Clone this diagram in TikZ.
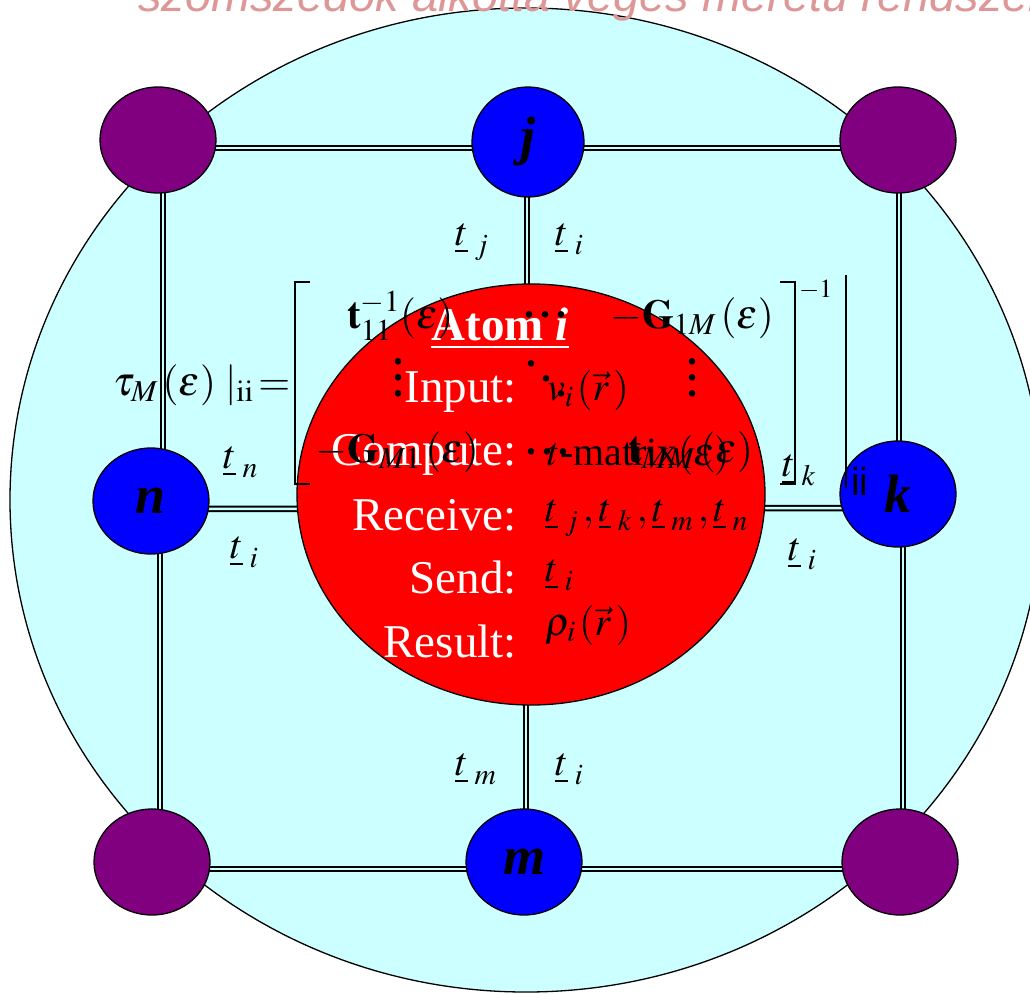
\documentclass[tikz,border=0pt]{standalone}
\usepackage{mathptmx}
\usepackage{fontspec}
\setmainfont{Liberation Serif}
\setsansfont{Liberation Sans}
\usetikzlibrary{shapes.geometric}
\definecolor{cyanbg}{RGB}{204,255,255}
\definecolor{vio}{RGB}{128,0,128}
\definecolor{blu}{RGB}{0,0,255}
\definecolor{pinkt}{RGB}{222,150,150}
\pgfdeclarelayer{bg}
\pgfdeclarelayer{lines}
\pgfdeclarelayer{front}
\pgfsetlayers{bg,lines,main,front}
\newcommand\mydots{\textbf{.}\kern6pt\textbf{.}\kern6pt\textbf{.}}
\tikzset{
  site/.style={ellipse, draw=black, line width=1.3pt, minimum width=116pt, minimum height=106pt, inner sep=0pt,
    font=\fontsize{54}{60}\selectfont\bfseries\itshape},
  corner/.style={site, fill=vio},
  bluesite/.style={site, fill=blu},
  link/.style={draw=black, line width=2pt, double=cyanbg, double distance=2.5pt},
  elbl/.style={inner sep=0pt, anchor=base west, font=\fontsize{40}{46}\selectfont},
  mtx/.style={inner sep=0pt, anchor=base west, font=\fontsize{41}{46}\selectfont},
  wlbl/.style={inner sep=0pt, anchor=base east, text=white, font=\fontsize{47}{52}\selectfont},
  bval/.style={inner sep=0pt, anchor=base west, text=black, font=\fontsize{40}{46}\selectfont},
  brk/.style={draw=black, line width=1.8pt},
  dotrow/.style={inner sep=0pt, anchor=base west, font=\fontsize{40}{46}\selectfont},
}
\newcommand\myvdots{\raisebox{32pt}{\textbf{.}}\llap{\raisebox{16pt}{\textbf{.}}}\llap{\textbf{.}}}
\begin{document}
\begin{tikzpicture}[x=1pt,y=-1pt]
\useasboundingbox (0,0) rectangle (1030,993);
% title (cut at the top)
\node[inner sep=0pt, anchor=base west, text=pinkt, font=\fontsize{47}{52}\selectfont\sffamily\itshape] (title) at (138,11) {szomszédok alkotta véges méretű rendszer};
% big region
\begin{pgfonlayer}{bg}
\node[ellipse, draw=black, line width=1.3pt, fill=cyanbg, minimum width=1032pt, minimum height=984pt, inner sep=0pt] (world) at (526,500) {};
\end{pgfonlayer}
% sites
\node[corner] (tl) at (158,140) {};
\node[corner] (tr) at (898,140) {};
\node[corner] (bl) at (152,862) {};
\node[corner] (br) at (900,862) {};
\node[bluesite, minimum width=112pt, minimum height=110pt] (j) at (528,142) {j};
\node[bluesite] (n) at (151,501) {n};
\node[bluesite] (k) at (898,494) {k};
\node[bluesite] (m) at (524,862) {m};
\node[ellipse, draw=black, line width=1.3pt, fill=red, minimum width=468pt, minimum height=421pt, inner sep=0pt] (atom) at (531,494.5) {};
% links
\begin{pgfonlayer}{lines}
\draw[link] ([yshift=-8pt]tl.center) -- ([yshift=-6pt]j.center);
\draw[link] ([yshift=-6pt]j.center) -- ([yshift=-8pt]tr.center);
\draw[link] ([xshift=5pt]tl.center) -- ([xshift=12pt]n.center);
\draw[link] ([xshift=9pt]n.center) -- ([xshift=8pt]bl.center);
\draw[link] ([xshift=1pt]tr.center) -- ([xshift=1pt]k.center);
\draw[link] ([xshift=5pt]k.center) -- ([xshift=3pt]br.center);
\draw[link] ([xshift=-1pt]j.center) -- ([xshift=-4pt]atom.center);
\draw[link] ([xshift=-5pt]atom.center) -- ([xshift=2pt]m.center);
\draw[link] ([yshift=-8pt]n.center) -- ([yshift=-14pt]atom.center);
\draw[link] ([yshift=-14pt]atom.center) -- ([yshift=-14pt]k.center);
\draw[link] ([yshift=-7pt]bl.center) -- ([yshift=-7pt]m.center);
\draw[link] ([yshift=-7pt]m.center) -- ([yshift=-7pt]br.center);
\end{pgfonlayer}
% edge labels
\node[elbl] (lj) at (455,245) {$\underline{t}_{\;j}$};
\node[elbl] (lij) at (555,245) {$\underline{t}_{\;i}$};
\node[elbl] (ln) at (223,468) {$\underline{t}_{\;n}$};
\node[elbl] (lin) at (230,558) {$\underline{t}_{\;i}$};
\node[elbl] (lk) at (782,476) {$\underline{t}_{\;k}$};
\node[elbl] (lik) at (788,560) {$\underline{t}_{\;i}$};
\node[elbl] (lm) at (455,775) {$\underline{t}_{\;m}$};
\node[elbl] (lim) at (555,775) {$\underline{t}_{\;i}$};
% atom text
\node[inner sep=0pt, anchor=base, text=white, font=\fontsize{47}{52}\selectfont\bfseries] (atomt) at (500,340) {\underline{Atom \textit{i}}};
\node[wlbl] (in) at (517,402) {Input:};
\node[wlbl] (co) at (517,465) {Compute:};
\node[wlbl] (re) at (517,530) {Receive:};
\node[wlbl] (se) at (517,593) {Send:};
\node[wlbl] (rs) at (517,657) {Result:};
\node[bval] (inv) at (547,400) {$v_{i\,}(\vec r\,)$};
\node[bval] (cov) at (547,465) {$t$-matrix$(\varepsilon)$};
\node[bval] (rev) at (545,521) {$\underline{t}_{\;j}\,,\underline{t}_{\;k}\,,\underline{t}_{\;m}\,,\underline{t}_{\;n}$};
\node[bval] (sev) at (545,581) {$\underline{t}_{\;i}$};
\node[bval] (rsv) at (545,635) {$\rho_{i\,}(\vec r\,)$};
% matrix overlay
\begin{pgfonlayer}{front}
\node[mtx] (tau) at (113,395) {$\tau_M\,(\varepsilon)\;|_{\mathrm{ii}}\!=$};
\draw[brk] (310,282) -- (295,282) -- (295,484) -- (310,484);
\draw[brk] (780,282) -- (795,282) -- (795,484) -- (780,484);
\node[inner sep=0pt, anchor=base west, font=\fontsize{26}{30}\selectfont] (inv1) at (799,297) {$-1$};
\draw[black, line width=1.6pt] (846,275) -- (846,488);
\node[inner sep=0pt, anchor=base west, font=\fontsize{39}{44}\selectfont\sffamily] (ii) at (851,495) {ii};
\node[mtx] (a11) at (347,328) {$\mathbf{t}^{-1}_{11}(\varepsilon)$};
\node[dotrow] (c1) at (524,317) {\mydots};
\node[mtx] (a1m) at (610,328) {$-\mathbf{G}_{1M}\,(\varepsilon)$};
\node[dotrow] (v1) at (393,396) {\myvdots};
\node[dotrow] (d1) at (526,396) {\raisebox{30pt}{\textbf{.}}\kern5pt\raisebox{15pt}{\textbf{.}}\kern5pt\textbf{.}};
\node[dotrow] (v2) at (687,396) {\myvdots};
\node[mtx] (am1) at (315,462) {$-\mathbf{G}_{M1}\,(\varepsilon)$};
\node[dotrow] (c2) at (526,454) {\mydots};
\node[mtx] (amm) at (628,462) {$\mathbf{t}_{MM}\,(\varepsilon)$};
\end{pgfonlayer}
\end{tikzpicture}
\end{document}
